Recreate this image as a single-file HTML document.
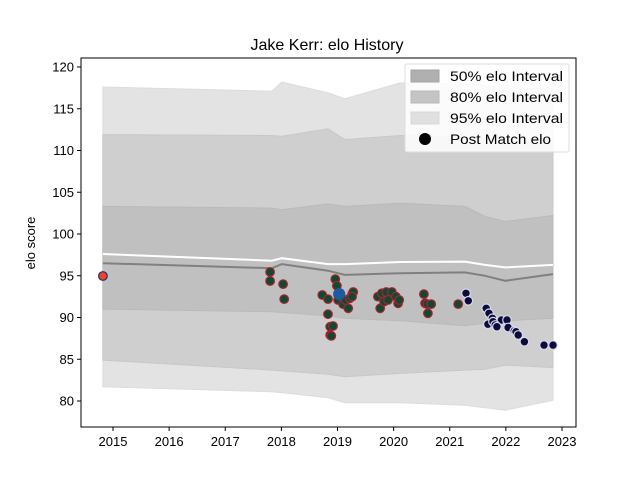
<!DOCTYPE html>
<html><head><meta charset="utf-8"><style>
body{margin:0;background:#fff;}
svg{display:block;font-family:"Liberation Sans","DejaVu Sans",sans-serif;}
</style></head><body>
<svg id="chart" width="640" height="480" viewBox="0 0 640 480">
<rect width="640" height="480" fill="#fff"/>
<text x="327" y="50" text-anchor="middle" font-size="16" fill="#000">Jake Kerr: elo History</text>
<text transform="translate(35,243) rotate(-90)" text-anchor="middle" font-size="13">elo score</text>
<g id="bands"></g><g id="lines"></g><g id="points"></g><g id="axes"></g>
<g>
<rect x="405" y="64" width="164" height="88" fill="#fff" fill-opacity="0.85" stroke="#ddd" rx="2"/>
<rect x="411" y="70" width="28" height="12" fill="#b0b0b0" stroke="#a5a5a5"/>
<text x="450" y="81" font-size="14" textLength="113" lengthAdjust="spacingAndGlyphs">50% elo Interval</text>
<rect x="411" y="91" width="28" height="12" fill="#c4c4c4" stroke="#b8b8b8"/>
<text x="450" y="102" font-size="14" textLength="113" lengthAdjust="spacingAndGlyphs">80% elo Interval</text>
<rect x="411" y="112" width="28" height="12" fill="#e0e0e0" stroke="#d8d8d8"/>
<text x="450" y="123" font-size="14" textLength="113" lengthAdjust="spacingAndGlyphs">95% elo Interval</text>
<circle cx="425" cy="139" r="6" fill="#000"/>
<text x="450" y="144" font-size="14" textLength="101" lengthAdjust="spacingAndGlyphs">Post Match elo</text>
</g>
</svg>
<script>
const bandYears=[2014.82,2017.83,2018.01,2018.83,2019.13,2020.12,2021.27,2021.63,2021.99,2022.84];
const upper95=[117.6,117.1,118.2,116.9,116.2,118.1,118.0,117.8,117.5,117.5];
const upper80=[111.9,111.8,111.7,112.6,111.3,111.8,111.6,111.5,111.4,111.5];
const upper50=[103.3,103.1,102.9,103.6,103.3,103.7,103.3,102.1,101.5,102.2];
const meanLine=[97.6,96.8,97.1,96.4,96.4,96.65,96.7,96.3,96.0,96.3];
const medianLine=[96.5,95.9,96.4,95.6,95.1,95.3,95.4,95.0,94.4,95.2];
const lower50=[91.0,90.7,90.6,90.2,89.9,89.6,89.0,89.3,89.6,89.9];
const lower80=[84.9,83.7,83.6,83.2,82.9,83.3,83.7,83.8,84.3,84.0];
const lower95=[81.7,81.1,81.0,80.4,79.8,79.8,79.5,79.2,78.9,80.1];
const pointYears=[2014.82,2017.80,2017.80,2018.03,2018.05,2018.73,2018.83,2018.83,2018.87,2018.92,2018.87,2018.89,2018.96,2018.99,2019.01,2019.05,2019.10,2019.14,2019.19,2019.22,2019.26,2019.28,2019.26,2019.72,2019.76,2019.79,2019.83,2019.87,2019.90,2019.97,2020.04,2020.08,2020.10,2020.54,2020.56,2020.60,2020.61,2020.67,2021.15,2019.03,2021.29,2021.33,2021.65,2021.70,2021.76,2021.68,2021.77,2021.92,2021.81,2021.84,2022.02,2022.04,2022.15,2022.18,2022.22,2022.33,2022.68,2022.84];
const pointValues=[94.97,95.45,94.37,94.0,92.2,92.7,92.2,90.4,88.9,88.98,87.9,87.8,94.6,93.8,92.1,92.7,91.6,92.1,91.1,92.3,92.8,93.05,92.5,92.5,91.1,92.9,91.9,93.05,92.1,93.05,92.5,91.7,92.1,92.8,91.7,91.6,90.5,91.6,91.6,92.8,92.9,92.0,91.1,90.5,89.9,89.2,89.5,89.7,89.1,88.9,89.7,88.8,88.4,88.3,87.9,87.1,86.7,86.7];
const pointKinds=["first","g","g","g","g","g","g","g","g","g","g","g","g","g","g","g","g","g","g","g","g","g","g","g","g","g","g","g","g","g","g","g","g","g","g","g","g","g","g","blue","n","n","n","n","n","n","n","n","n","n","n","n","n","n","n","n","n","n"];
const yTicks=[80,85,90,95,100,105,110,115,120];
const xTicks=[2015,2016,2017,2018,2019,2020,2021,2022,2023];

const NS="http://www.w3.org/2000/svg";
const L=81,R=576,T=58,B=427;
const xs=y=>113+(y-2015)*56.125;
const ys=v=>67+(120-v)*8.35;
function mk(tag,attrs,parent){const e=document.createElementNS(NS,tag);for(const k in attrs)e.setAttribute(k,attrs[k]);document.getElementById(parent).appendChild(e);return e;}
function bandPath(up,lo){let d="";bandYears.forEach((y,i)=>{d+=(i?"L":"M")+xs(y).toFixed(1)+","+ys(up[i]).toFixed(1);});for(let i=bandYears.length-1;i>=0;i--)d+="L"+xs(bandYears[i]).toFixed(1)+","+ys(lo[i]).toFixed(1);return d+"Z";}
function linePath(v){return bandYears.map((y,i)=>(i?"L":"M")+xs(y).toFixed(1)+","+ys(v[i]).toFixed(1)).join("");}
let e;
e=mk("path",{d:bandPath(upper95,lower95),fill:"#e3e3e3",stroke:"#dcdcdc"},"bands");


e=mk("path",{d:bandPath(upper80,lower80),fill:"#cfcfcf",stroke:"#c8c8c8"},"bands");


e=mk("path",{d:bandPath(upper50,lower50),fill:"#c0c0c0",stroke:"#bababa"},"bands");


e=mk("path",{d:linePath(medianLine),fill:"none",stroke:"#808080","stroke-width":2},"lines");


e=mk("path",{d:linePath(meanLine),fill:"none",stroke:"#fff","stroke-width":2},"lines");


const styles={first:["#e8452c","#2a2a6a"],g:["#0d4a33","#b0202e"],blue:["#1f5a9c","#1f5a9c"],n:["#0c0c3c","#d8d8e8"]};
pointYears.forEach((y,i)=>{const s=styles[pointKinds[i]];
const c=mk("circle",{cx:xs(y).toFixed(1),cy:ys(pointValues[i]).toFixed(1),r:pointKinds[i]==="blue"?5.5:4.3,fill:s[0],stroke:s[1],"stroke-width":1.2},"points");


});
e=mk("rect",{x:L,y:T,width:R-L,height:B-T,fill:"none",stroke:"#000","stroke-width":1},"axes");


yTicks.forEach(v=>{const y=ys(v);
const t=mk("line",{x1:L-4,x2:L,y1:y,y2:y,stroke:"#000"},"axes");


const tx=mk("text",{x:L-7,y:y+4.5,"text-anchor":"end","font-size":13},"axes");tx.textContent=v;


});
xTicks.forEach(v=>{const x=xs(v);
const t=mk("line",{x1:x,x2:x,y1:B,y2:B+4,stroke:"#000"},"axes");


const tx=mk("text",{x:x,y:B+19,"text-anchor":"middle","font-size":13},"axes");tx.textContent=v;


});
</script>
</body></html>
